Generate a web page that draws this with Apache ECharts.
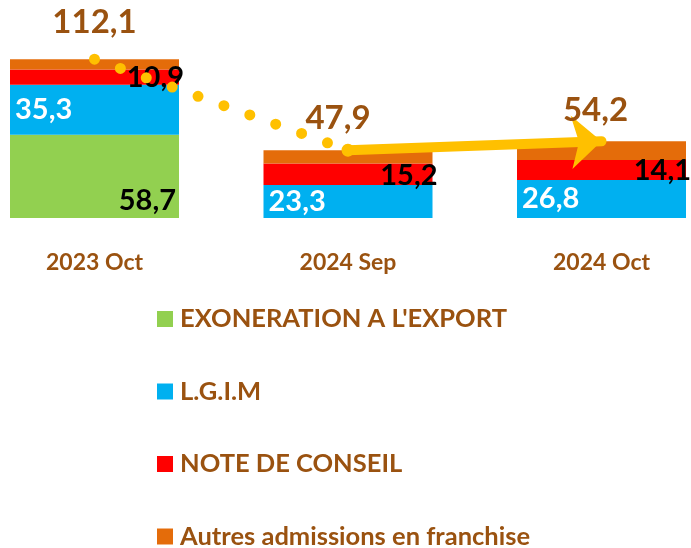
<!DOCTYPE html>
<html>
<head>
<meta charset="utf-8">
<script src="https://cdn.jsdelivr.net/npm/echarts@6/dist/echarts.min.js"></script>
<style>
html,body{margin:0;padding:0;background:#fff;}
#c{width:691px;height:548px;}
</style>
</head>
<body>
<div id="c"></div>
<script>
// ---- data ----
var categories = ['2023 Oct', '2024 Sep', '2024 Oct'];
var exoneration = [58.7, 0, 0];
var lgim = [35.3, 23.3, 26.8];
var noteConseil = [10.9, 15.2, 14.1];
var autres = [7.2, 9.4, 13.3];
var totals = [112.1, 47.9, 54.2];
var seriesNames = ['EXONERATION A L\'EXPORT', 'L.G.I.M', 'NOTE DE CONSEIL', 'Autres admissions en franchise'];

var BROWN = '#9a5210';
var FONT = 'Lato';
function fmt(v) { return String(v).replace('.', ','); }
function lbl(p) { return p.value ? fmt(p.value) : ''; }

var chart = echarts.init(document.getElementById('c'));
var barW = 169;
var totalOffsets = [[0, 0], [-10, 0], [-6, 0]];
var totalDist = [20, 15, 14];

chart.setOption({
  animation: false,
  backgroundColor: '#ffffff',
  grid: { left: 94.5, right: 89.5, top: 48, bottom: 330 },
  legend: {
    orient: 'vertical',
    left: 157,
    top: 306,
    height: 260,
    padding: 0,
    itemWidth: 16,
    itemHeight: 16,
    itemGap: 46.5,
    icon: 'rect',
    data: seriesNames,
    selectedMode: false,
    textStyle: { color: BROWN, fontFamily: FONT, fontWeight: 'bold', fontSize: 25.5, padding: [0, 0, 0, 2] }
  },
  xAxis: {
    type: 'category',
    data: categories,
    boundaryGap: false,
    axisLine: { show: false },
    axisTick: { show: false },
    axisLabel: { color: BROWN, fontFamily: FONT, fontWeight: 'bold', fontSize: 23, margin: 33 }
  },
  yAxis: { type: 'value', min: 0, max: 120, show: false, splitLine: { show: false } },
  series: [
    {
      name: seriesNames[0], type: 'bar', stack: 't', barWidth: barW, data: exoneration,
      itemStyle: { color: '#92D050' },
      label: { show: true, position: 'insideBottomRight', distance: 3, formatter: lbl,
        color: '#000', fontFamily: FONT, fontWeight: 'bold', fontSize: 29 }
    },
    {
      name: seriesNames[1], type: 'bar', stack: 't', barWidth: barW, data: lgim,
      itemStyle: { color: '#00B0F0' },
      label: { show: true, position: 'insideLeft', distance: 5, formatter: lbl,
        color: '#fff', fontFamily: FONT, fontWeight: 'bold', fontSize: 29 }
    },
    {
      name: seriesNames[2], type: 'bar', stack: 't', barWidth: barW, data: noteConseil,
      itemStyle: { color: '#FF0000' },
      label: { show: true, position: 'insideRight', distance: 0, offset: [5, 1], formatter: lbl,
        color: '#000', fontFamily: FONT, fontWeight: 'bold', fontSize: 29 }
    },
    {
      name: seriesNames[3], type: 'bar', stack: 't', barWidth: barW, data: autres,
      itemStyle: { color: '#E46C0A' },
      label: { show: false }
    },
    {
      name: 'dots', type: 'scatter', data: [], z: 5,
      markLine: {
        silent: true, symbol: ['none', 'none'], label: { show: false },
        lineStyle: { color: '#FFC000', width: 11, type: [0, 27.5], cap: 'round', opacity: 1 },
        emphasis: { disabled: true },
        data: [[{ coord: [categories[0], totals[0]] }, { coord: [categories[1], totals[1]] }]]
      }
    },
    {
      name: 'arrow', type: 'scatter', data: [], z: 5,
      markLine: {
        silent: true, label: { show: false },
        lineStyle: { color: '#FFC000', width: 10, type: 'solid', cap: 'round', opacity: 1 },
        itemStyle: { color: '#FFC000' },
        emphasis: { disabled: true },
        data: [[
          { coord: [categories[1], totals[1]], symbol: 'circle', symbolSize: 13 },
          { coord: [categories[2], totals[2]], symbol: 'arrow', symbolSize: [40, 30] }
        ]]
      }
    },
    {
      name: 'totals', type: 'scatter', symbolSize: 1, z: 6,
      itemStyle: { color: 'rgba(0,0,0,0)', opacity: 1 },
      data: totals.map(function (v, i) {
        return { value: [categories[i], v],
          label: { offset: totalOffsets[i], distance: totalDist[i] } };
      }),
      label: { show: true, position: 'top', opacity: 1,
        formatter: function (p) { return fmt(p.value[1]); },
        color: BROWN, fontFamily: FONT, fontWeight: 'bold', fontSize: 33 }
    }
  ]
});
</script>
</body>
</html>
